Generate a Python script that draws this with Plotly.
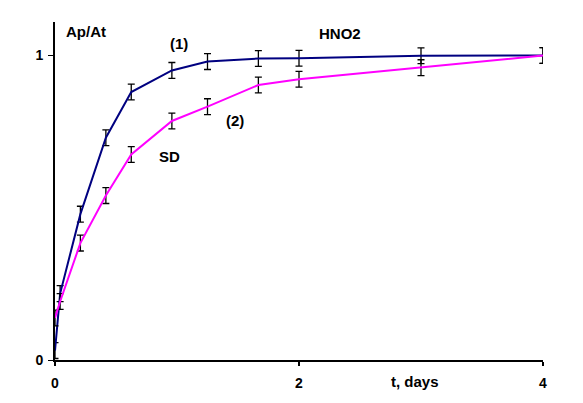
import plotly.graph_objects as go

t_days = [0, 0.042, 0.208, 0.417, 0.625, 0.958, 1.25, 1.667, 2, 3, 4]
hno2 = [0.031, 0.218, 0.479, 0.73, 0.88, 0.951, 0.98, 0.99, 0.991, 0.999, 1.0]
sd = [0.138, 0.192, 0.384, 0.54, 0.675, 0.785, 0.832, 0.903, 0.922, 0.96, 1.0]
err = 0.026

x_ticks = [0, 2, 4]
y_ticks = [0, 1]

FONT = "Liberation Sans, Arial, sans-serif"

fig = go.Figure()
for vals, col in [(hno2, "#000080"), (sd, "#FF00FF")]:
    fig.add_trace(go.Scatter(
        x=t_days, y=vals, mode="lines",
        line=dict(color=col, width=2),
        error_y=dict(type="constant", value=err, color="black", thickness=1.3, width=3.5),
        cliponaxis=False, showlegend=False,
    ))

ann = [
    ("Ap/At", 0.25, 1.078),
    ("(1)", 1.02, 1.039),
    ("HNO2", 2.34, 1.072),
    ("(2)", 1.475, 0.785),
    ("SD", 0.94, 0.668),
]
for txt, ax_, ay_ in ann:
    fig.add_annotation(x=ax_, y=ay_, text=txt, showarrow=False,
                       font=dict(family=FONT, size=15, color="black", weight="bold"))
fig.add_annotation(x=2.95, xref="x", y=-0.072 / 1.11, yref="paper", yanchor="middle",
                   xanchor="center", text="t, days", showarrow=False,
                   font=dict(family=FONT, size=15, color="black", weight="bold"))

fig.update_layout(
    width=583, height=403,
    margin=dict(l=55, r=40, t=22, b=40),
    paper_bgcolor="white", plot_bgcolor="white",
    font=dict(family=FONT, size=14, color="black", weight="bold"),
    xaxis=dict(range=[0, 4], tickvals=x_ticks, showgrid=False, zeroline=False,
               showline=True, linecolor="black", linewidth=2,
               ticks="outside", ticklen=4, tickwidth=2, tickcolor="black",
               ticklabelstandoff=5,
               tickfont=dict(family=FONT, size=14, weight="bold")),
    yaxis=dict(range=[0, 1.11], tickvals=y_ticks, showgrid=False, zeroline=False,
               showline=True, linecolor="black", linewidth=2,
               ticks="outside", ticklen=5, tickwidth=1, tickcolor="black",
               ticklabelstandoff=2,
               tickfont=dict(family=FONT, size=14, weight="bold")),
)

fig.write_html("out.html")
